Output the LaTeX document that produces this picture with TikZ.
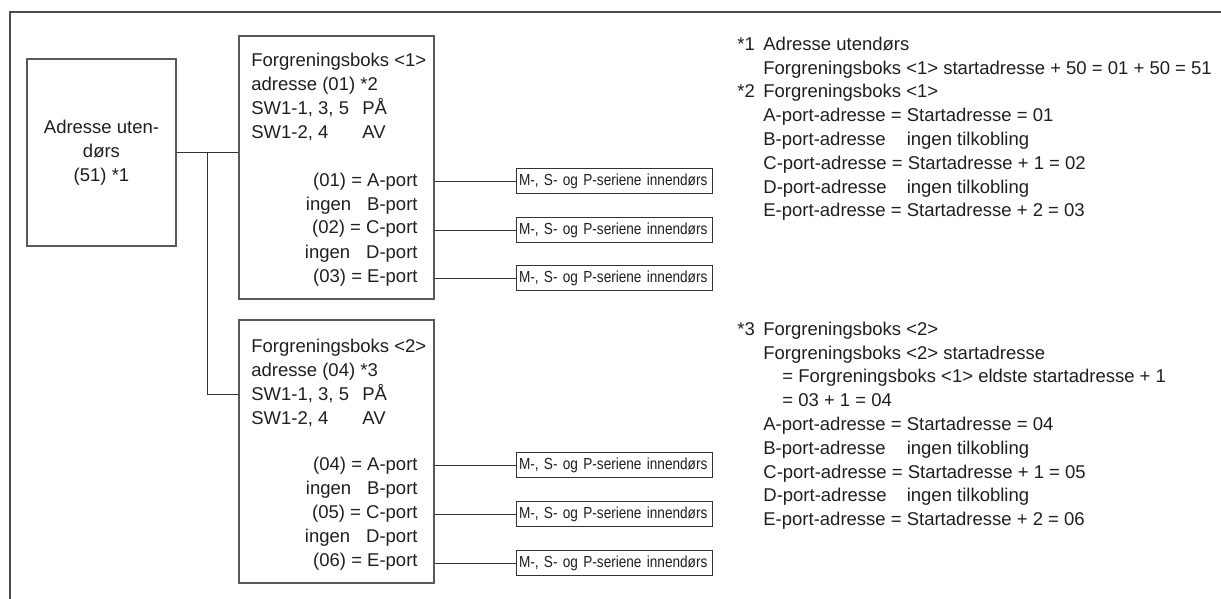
\documentclass[tikz,border=0pt]{standalone}
\usepackage{fontspec}
\setmainfont{Liberation Sans}
\newfontfamily\narrowfont[FakeStretch=0.85]{Liberation Sans}
\usepackage{calc}
\usetikzlibrary{positioning}
\newcommand{\nm}[1]{\makebox[13pt][l]{#1}}
\newcommand{\swrow}[2]{\makebox[55.5pt][l]{#1}#2}
\newcommand{\nocon}[1]{\makebox[\widthof{A-port-adresse = }][l]{#1}}

\begin{document}
\begin{tikzpicture}[x=0.5pt, y=-0.5pt,
    every node/.style={text=black!88},
    odu/.style={draw=black!65, line width=0.6pt, minimum width=74.5pt,
                minimum height=93.5pt, align=center,
                font=\fontsize{9.25}{12}\selectfont},
    bbox/.style={draw=black!65, line width=0.6pt, minimum width=97.5pt,
                 minimum height=131.5pt, inner sep=0pt},
    hdr/.style={anchor=north west, inner sep=0pt, align=left,
                font=\fontsize{9.25}{12}\selectfont},
    port/.style={anchor=base east, inner sep=0pt,
                 font=\fontsize{9.25}{12}\selectfont},
    idu/.style={draw=black!80, line width=0.5pt, minimum width=98pt,
                minimum height=12.5pt, text width=95pt, inner xsep=1.5pt,
                inner ysep=0pt, align=left,
                font=\narrowfont\fontsize{8}{9}\selectfont},
    note/.style={anchor=north west, inner sep=0pt, align=left,
                 font=\fontsize{9.25}{11.9}\selectfont},
    lnk/.style={draw=black!80, line width=0.5pt}
  ]
    \useasboundingbox (0,0) rectangle (1221,599);
    \draw[black!70, line width=0.6pt] (1221,12) -- (10,12) -- (10,599);

    % outdoor unit and branch boxes
    \node[odu] (odu) at (101.5,152.5) {Adresse uten-\\dørs\\(51) *1};
    \node[bbox] (bb1) at (336.5,167.5) {};
    \node[bbox] (bb2) at (336.5,451.5) {};
    \coordinate (tee) at (207,152.5);
    \coordinate (j2) at (239,394);
    \draw[lnk] (odu.east) -- (bb1.west |- odu.east);
    \draw[lnk] (tee) |- (j2);

    % box <1>
    \node[hdr] (h1) at (251,52.4) {Forgreningsboks <1>\\adresse (01) *2\\
      \swrow{SW1-1, 3, 5}{PÅ}\\\swrow{SW1-2, 4}{AV}};
    \node[port] (a1) at (418,186) {(01) = A-port};
    \node[port] (b1) at (418,210) {ingen\hspace{8pt}B-port};
    \node[port] (c1) at (418,234) {(02) = C-port};
    \node[port] (d1) at (418,258) {ingen\hspace{8pt}D-port};
    \node[port] (e1) at (418,282) {(03) = E-port};

    % box <2>
    \node[hdr] (h2) at (251,338.4) {Forgreningsboks <2>\\adresse (04) *3\\
      \swrow{SW1-1, 3, 5}{PÅ}\\\swrow{SW1-2, 4}{AV}};
    \node[port] (a2) at (418,470) {(04) = A-port};
    \node[port] (b2) at (418,494) {ingen\hspace{8pt}B-port};
    \node[port] (c2) at (418,518) {(05) = C-port};
    \node[port] (d2) at (418,542) {ingen\hspace{8pt}D-port};
    \node[port] (e2) at (418,566) {(06) = E-port};

    % indoor units
    \node[idu] (i1a) at (614,181) {M-, S- og P-seriene innendørs};
    \node[idu] (i1c) at (614,230) {M-, S- og P-seriene innendørs};
    \node[idu] (i1e) at (614,278) {M-, S- og P-seriene innendørs};
    \node[idu] (i2a) at (614,465) {M-, S- og P-seriene innendørs};
    \node[idu] (i2c) at (614,514) {M-, S- og P-seriene innendørs};
    \node[idu] (i2e) at (614,563) {M-, S- og P-seriene innendørs};
    \draw[lnk] (bb1.east |- i1a.west) -- (i1a.west);
    \draw[lnk] (bb1.east |- i1c.west) -- (i1c.west);
    \draw[lnk] (bb1.east |- i1e.west) -- (i1e.west);
    \draw[lnk] (bb2.east |- i2a.west) -- (i2a.west);
    \draw[lnk] (bb2.east |- i2c.west) -- (i2c.west);
    \draw[lnk] (bb2.east |- i2e.west) -- (i2e.west);

    % notes
    \node[note] (n1) at (737,36.4) {\nm{*1}Adresse utendørs\\
      \nm{}Forgreningsboks <1> startadresse + 50 = 01 + 50 = 51\\
      \nm{*2}Forgreningsboks <1>\\
      \nm{}A-port-adresse = Startadresse = 01\\
      \nm{}\nocon{B-port-adresse}ingen tilkobling\\
      \nm{}C-port-adresse = Startadresse + 1 = 02\\
      \nm{}\nocon{D-port-adresse}ingen tilkobling\\
      \nm{}E-port-adresse = Startadresse + 2 = 03};
    \node[note] (n2) at (737,321.4) {\nm{*3}Forgreningsboks <2>\\
      \nm{}Forgreningsboks <2> startadresse\\
      \nm{}\hspace*{9.5pt}= Forgreningsboks <1> eldste startadresse + 1\\
      \nm{}\hspace*{9.5pt}= 03 + 1 = 04\\
      \nm{}A-port-adresse = Startadresse = 04\\
      \nm{}\nocon{B-port-adresse}ingen tilkobling\\
      \nm{}C-port-adresse = Startadresse + 1 = 05\\
      \nm{}\nocon{D-port-adresse}ingen tilkobling\\
      \nm{}E-port-adresse = Startadresse + 2 = 06};
\end{tikzpicture}
\end{document}
